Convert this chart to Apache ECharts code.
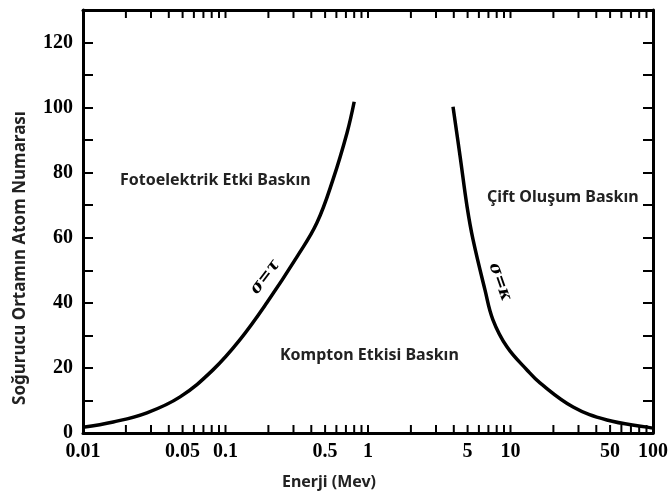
<!DOCTYPE html>
<html>
<head>
<meta charset="utf-8">
<script src="https://cdn.jsdelivr.net/npm/echarts@6/dist/echarts.min.js"></script>
<style>
	html, body { margin: 0; padding: 0; background: #fff; }
	#chart { width: 672px; height: 498px; }
</style>
</head>
<body>
<div id="chart"></div>
<script>
// energy (MeV) vs atomic number
var photoCurve = [[0.01, 1.8], [0.0163, 3.4], [0.0281, 6.2], [0.048, 11.1], [0.0817, 19.4], [0.126, 28.6],
	[0.195, 40], [0.318, 54.2], [0.438, 64.6], [0.567, 77.8], [0.713, 92.3], [0.80, 101.8]];
var pairCurve = [[3.95, 100.3], [4.43, 85], [4.96, 69.5], [5.46, 59.4], [6.62, 44], [7.53, 34.8],
	[9.44, 26.5], [13.1, 19.3], [16.1, 15.4], [27.5, 8.0], [47.5, 4.0], [90.8, 1.8], [100, 1.5]];
var xLabels = [0.01, 0.05, 0.1, 0.5, 1, 5, 10, 50, 100];
var xTicks = [];
[0.01, 0.1, 1, 10].forEach(function(d) {
	for (let k = 1; k < 10; k++) xTicks.push(+(d * k).toPrecision(3));
});
xTicks.push(100);
var yLabels = [0, 20, 40, 60, 80, 100, 120];
var yMax = 130;

var chart = echarts.init(document.getElementById('chart'));
var tickFont = { fontFamily: 'Liberation Serif', fontWeight: 'bold', fontSize: 20, color: '#000' };
var axisLine = { show: true, onZero: false, lineStyle: { color: '#000', width: 3 } };

function xAxisOf(pos, withLabels) {
	return {
		type: 'log',
		logBase: 10,
		position: pos,
		min: 0.01,
		max: 100,
		axisLine: axisLine,
		axisTick: { show: false },
		axisLabel: Object.assign({
			show: withLabels,
			margin: 9,
			customValues: xLabels,
			formatter: function(v) { return String(+v.toPrecision(3)); }
		}, tickFont),
		splitLine: { show: false },
		name: withLabels ? 'Enerji (Mev)' : '',
		nameLocation: 'middle',
		nameGap: 41,
		nameTextStyle: { fontFamily: 'Noto Sans', fontWeight: 'bold', fontSize: 16, color: '#222', padding: [0, 78, 0, 0] }
	};
}

function yAxisOf(pos, withLabels) {
	return {
		type: 'value',
		position: pos,
		min: 0,
		max: yMax,
		interval: 10,
		axisLine: axisLine,
		axisTick: { show: true, inside: true, length: 10, lineStyle: { color: '#000', width: 2 } },
		axisLabel: Object.assign({
			show: withLabels,
			margin: 10,
			formatter: function(v) { return yLabels.indexOf(v) >= 0 ? String(v) : ''; }
		}, tickFont),
		splitLine: { show: false }
	};
}

var annText = { fontFamily: 'Noto Sans', fontWeight: 'bold', fontSize: 16, fill: '#222', verticalAlign: 'middle' };
var sigmaText = { align: 'center', verticalAlign: 'middle', fontFamily: 'DejaVu Serif', fontStyle: 'italic', fontWeight: 'bold', fontSize: 17, fill: '#000' };

chart.setOption({
	animation: false,
	backgroundColor: '#fff',
	grid: { left: 83, right: 19, top: 10, bottom: 65 },
	xAxis: [xAxisOf('bottom', true), xAxisOf('top', false)],
	yAxis: [yAxisOf('left', true), yAxisOf('right', false)],
	series: [{
		type: 'line',
		data: photoCurve,
		smooth: 0.4,
		showSymbol: false,
		lineStyle: { color: '#000', width: 3.5 }
	}, {
		type: 'line',
		data: pairCurve,
		smooth: 0.4,
		showSymbol: false,
		lineStyle: { color: '#000', width: 3.5 }
	}]
});

var graphics = [
	{ type: 'text', x: 120, y: 180, style: Object.assign({ text: 'Fotoelektrik Etki Baskın' }, annText) },
	{ type: 'text', x: 487, y: 197, style: Object.assign({ text: 'Çift Oluşum Baskın' }, annText) },
	{ type: 'text', x: 280, y: 355, style: Object.assign({ text: 'Kompton Etkisi Baskın' }, annText) },
	{
		type: 'text', x: 20, y: 258, rotation: Math.PI / 2,
		style: Object.assign({ text: 'Soğurucu Ortamın Atom Numarası', align: 'center' }, annText, { fontSize: 17 })
	},
	{ type: 'text', x: 265, y: 277, rotation: 0.92, style: Object.assign({ text: 'σ=τ' }, sigmaText) },
	{ type: 'text', x: 500, y: 282, rotation: -1.23, style: Object.assign({ text: 'σ=κ' }, sigmaText) }
];

// small inward ticks on the bottom and top edges, placed with the log scale
xTicks.forEach(function(x) {
	var b = chart.convertToPixel({ xAxisIndex: 0, yAxisIndex: 0 }, [x, 0]);
	var t = chart.convertToPixel({ xAxisIndex: 0, yAxisIndex: 0 }, [x, yMax]);
	graphics.push({ type: 'line', silent: true, shape: { x1: b[0], y1: b[1], x2: b[0], y2: b[1] - 8 }, style: { stroke: '#000', lineWidth: 2 } });
	graphics.push({ type: 'line', silent: true, shape: { x1: t[0], y1: t[1], x2: t[0], y2: t[1] + 8 }, style: { stroke: '#000', lineWidth: 2 } });
});

chart.setOption({ graphic: graphics });
</script>
</body>
</html>
